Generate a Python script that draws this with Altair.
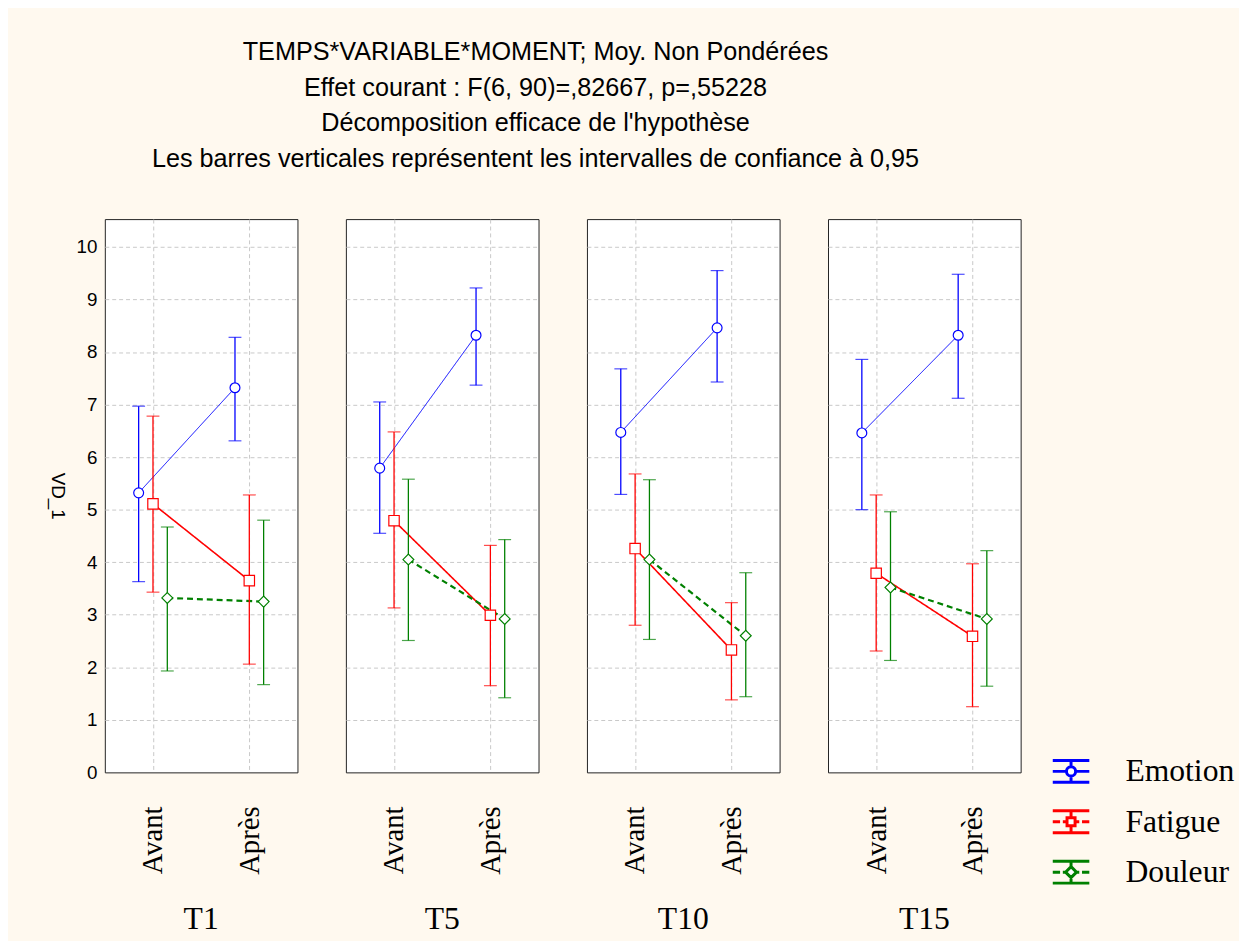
import altair as alt
import pandas as pd

TEMPS = ["T1", "T5", "T10", "T15"]
MOMENTS = ["Avant", "Après"]
VARIABLES = ["Emotion", "Fatigue", "Douleur"]
COLORS = ["#0000FF", "#FF0000", "#008000"]

# order of values: T1-Avant, T1-Après, T5-Avant, T5-Après, T10-Avant, T10-Après, T15-Avant, T15-Après
emotion_mean = [5.32, 7.32, 5.79, 8.32, 6.47, 8.46, 6.46, 8.32]
emotion_low = [3.63, 6.31, 4.55, 7.37, 5.29, 7.43, 5.00, 7.12]
emotion_high = [6.97, 8.28, 7.05, 9.22, 7.68, 9.55, 7.86, 9.48]

fatigue_mean = [5.11, 3.65, 4.79, 2.99, 4.26, 2.33, 3.79, 2.59]
fatigue_low = [3.43, 2.06, 3.13, 1.65, 2.80, 1.38, 2.31, 1.25]
fatigue_high = [6.78, 5.28, 6.48, 4.32, 5.68, 3.23, 5.28, 3.97]

douleur_mean = [3.32, 3.25, 4.05, 2.92, 4.05, 2.60, 3.52, 2.92]
douleur_low = [1.93, 1.67, 2.51, 1.42, 2.53, 1.44, 2.13, 1.64]
douleur_high = [4.67, 4.80, 5.58, 4.43, 5.57, 3.80, 4.96, 4.22]

TITLE_LINES = [
    "TEMPS*VARIABLE*MOMENT; Moy. Non Pondérées",
    "Effet courant : F(6, 90)=,82667, p=,55228",
    "Décomposition efficace de l'hypothèse",
    "Les barres verticales représentent les intervalles de confiance à 0,95",
]

series = {
    "Emotion": (emotion_mean, emotion_low, emotion_high),
    "Fatigue": (fatigue_mean, fatigue_low, fatigue_high),
    "Douleur": (douleur_mean, douleur_low, douleur_high),
}

rows = []
for var, (m, lo, hi) in series.items():
    k = 0
    for t in TEMPS:
        for mo in MOMENTS:
            rows.append({"Variable": var, "Temps": t, "Moment": mo,
                         "mean": m[k], "low": lo[k], "high": hi[k]})
            k += 1
df = pd.DataFrame(rows)

color = alt.Color("Variable:N", scale=alt.Scale(domain=VARIABLES, range=COLORS), legend=None)
x = alt.X("Moment:N", sort=MOMENTS, scale=alt.Scale(type="point", padding=0.5),
          axis=alt.Axis(title=None, labelAngle=270, labelFont="Liberation Serif",
                        labelFontSize=29, labelColor="black", ticks=False, labelPadding=33,
                        grid=True, gridDash=[4, 3], gridColor="#c8c8c8", domain=False))
xoff = alt.XOffset("Variable:N", sort=VARIABLES,
                   scale=alt.Scale(type="point", domain=VARIABLES, range=[-14.5, 14.5], padding=0))
yscale = alt.Scale(domain=[0, 10.53], nice=False, zero=True)
yaxis = alt.Axis(title="VD_1", values=list(range(11)), titleAngle=90, titleFont="Liberation Sans",
                 titleFontSize=19, titleFontWeight="normal", titleColor="black", titlePadding=29,
                 labelFont="Liberation Sans", labelFontSize=19, labelColor="black",
                 labelPadding=7, ticks=False, domain=False,
                 grid=True, gridDash=[4, 3], gridColor="#c8c8c8",
                 gridOpacity={"condition": {"test": "datum.value == 0", "value": 0}, "value": 1})


def Y(field):
    return alt.Y(f"{field}:Q", scale=yscale, axis=yaxis)


base = alt.Chart()

lines = base.mark_line().encode(
    x=x, xOffset=xoff, y=Y("mean"), color=color,
    strokeWidth=alt.StrokeWidth("Variable:N", scale=alt.Scale(domain=VARIABLES, range=[1, 2.2, 1]), legend=None),
    strokeDash=alt.StrokeDash("Variable:N", scale=alt.Scale(domain=VARIABLES, range=[[1, 0], [1, 0], [6, 4]]), legend=None),
    detail="Variable:N",
)
rules = base.mark_rule(strokeWidth=1.3).encode(
    x=x, xOffset=xoff, y=Y("low"), y2="high:Q", color=color)
cap_lo = base.mark_tick(orient="horizontal", size=13, thickness=1.2).encode(
    x=x, xOffset=xoff, y=Y("low"), color=color)
cap_hi = base.mark_tick(orient="horizontal", size=13, thickness=1.2).encode(
    x=x, xOffset=xoff, y=Y("high"), color=color)
points = base.mark_point(filled=False, fill="white", opacity=1, strokeWidth=1.2).encode(
    x=x, xOffset=xoff, y=Y("mean"), color=color,
    shape=alt.Shape("Variable:N", scale=alt.Scale(domain=VARIABLES, range=["circle", "square", "diamond"]), legend=None),
    size=alt.Size("Variable:N", scale=alt.Scale(domain=VARIABLES, range=[100, 121, 64]), legend=None),
)

panels = alt.layer(lines, rules, cap_lo, cap_hi, points, data=df).properties(width=195, height=560)

facet = panels.facet(
    column=alt.Column("Temps:N", sort=TEMPS,
                      header=alt.Header(title=None, labelOrient="bottom", labelFont="Liberation Serif",
                                        labelFontSize=32, labelColor="black", labelPadding=30)),
    spacing=47,
)

# legend built as its own small chart
GLYPHS = [
    "M-1,-0.6H1M-1,0.6H1M-1,0H-0.25M0.25,0H1M0,-0.6V-0.25M0,0.25V0.6"
    "M0.25,0A0.25,0.25 0 1 1 -0.25,0A0.25,0.25 0 1 1 0.25,0Z",
    "M-1,-0.6H1M-1,0.6H1M-1,0H-0.6M-0.45,0H-0.22M0.22,0H0.45M0.6,0H1M0,-0.6V-0.22M0,0.22V0.6"
    "M-0.22,-0.22H0.22V0.22H-0.22Z",
    "M-1,-0.6H1M-1,0.6H1M-1,0H-0.6M-0.45,0H-0.3M0.3,0H0.45M0.6,0H1M0,-0.6V-0.3M0,0.3V0.6"
    "M0,-0.3L0.3,0L0,0.3L-0.3,0Z",
]
leg_df = pd.DataFrame({"Variable": VARIABLES})
leg_y = alt.Y("Variable:N", sort=VARIABLES, scale=alt.Scale(type="point", range=[559, 661], padding=0), axis=None)
leg_sym = alt.Chart(leg_df).mark_point(filled=False, fill="white", opacity=1, size=1369, strokeWidth=3).encode(
    x=alt.value(30), y=leg_y, color=color,
    shape=alt.Shape("Variable:N", scale=alt.Scale(domain=VARIABLES, range=GLYPHS), legend=None),
)
leg_txt = alt.Chart(leg_df).mark_text(align="left", baseline="middle", font="Liberation Serif",
                                       fontSize=32, color="black").encode(
    x=alt.value(85), y=leg_y, text="Variable:N")
legend = alt.layer(leg_sym, leg_txt).properties(
    width=200, height=700, view=alt.ViewBackground(fillOpacity=0, strokeOpacity=0))

chart = alt.hconcat(facet, legend, spacing=20).resolve_scale(
    shape="independent", color="independent", size="independent"
).properties(
    title=alt.TitleParams(text=TITLE_LINES, font="Liberation Sans", fontSize=25.5, fontWeight="normal",
                          color="black", lineHeight=36, anchor="middle", offset=47, dx=-109),
    background="#FFF9EF",
    padding={"left": 39, "top": 27, "right": 0, "bottom": 0},
).configure_view(fill="white", stroke="#222222", strokeWidth=1)

chart.save("out.html", embed_options={"renderer": "svg", "actions": False})
